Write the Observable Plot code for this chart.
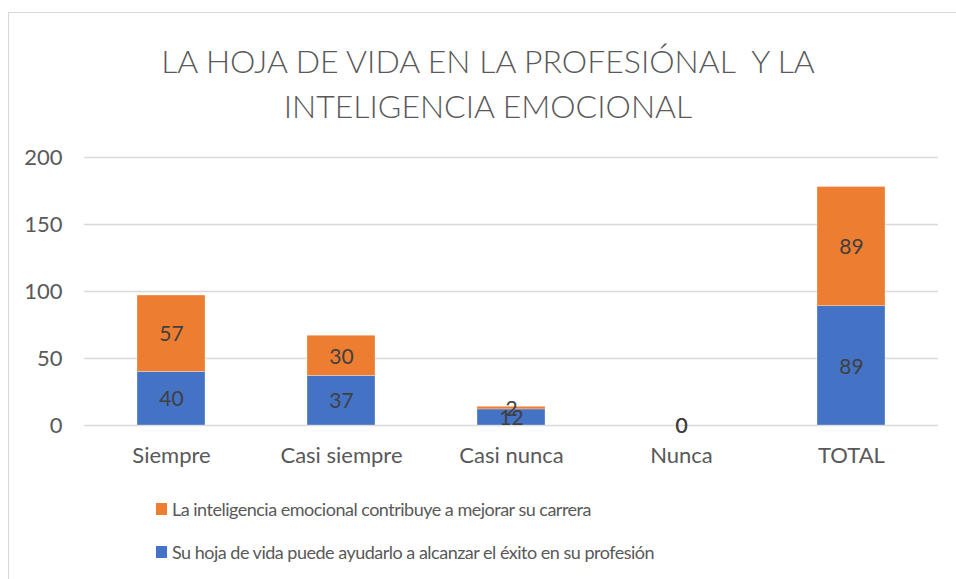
<!DOCTYPE html>
<html>
<head>
<meta charset="utf-8">
<script src="https://cdn.jsdelivr.net/npm/d3@7"></script>
<script src="https://cdn.jsdelivr.net/npm/@observablehq/plot@0.6"></script>
<style>
  html, body { margin: 0; padding: 0; background: #fff; }
  body { width: 956px; height: 579px; position: relative; overflow: hidden; font-family: Lato, "Open Sans", sans-serif; }
  #frame { position: absolute; left: 8px; top: 12px; width: 960px; height: 600px; border: 1.5px solid #d9d9d9; box-sizing: border-box; }
  #title { position: absolute; left: 0; width: 976px; top: 38px; text-align: center; color: #595959; font-size: 32px; font-weight: 300; line-height: 45px; }
  #chart { position: absolute; left: 0; top: 140px; }
  #legend { position: absolute; left: 156px; top: 487px; color: #595959; font-size: 18px; letter-spacing: -0.5px; }
  .item { display: flex; align-items: center; height: 43px; }
  .sw { width: 11px; height: 12px; margin-right: 5px; }
</style>
</head>
<body>
<div id="frame"></div>
<div id="title">LA HOJA DE VIDA EN LA PROFESIÓNAL&nbsp; Y LA<br>INTELIGENCIA EMOCIONAL</div>
<div id="chart"></div>
<div id="legend"></div>
<script>
const categories = ["Siempre", "Casi siempre", "Casi nunca", "Nunca", "TOTAL"];
const seriesNames = [
  "Su hoja de vida puede ayudarlo a alcanzar el éxito en su profesión",
  "La inteligencia emocional contribuye a mejorar su carrera"
];
const seriesBlue = [40, 37, 12, 0, 89];
const seriesOrange = [57, 30, 2, 0, 89];
const seriesColors = ["#4472C4", "#ED7D31"];
const yTicks = [0, 50, 100, 150, 200];

const data = [];
categories.forEach((c, i) => {
  data.push({cat: c, series: seriesNames[0], value: seriesBlue[i]});
  data.push({cat: c, series: seriesNames[1], value: seriesOrange[i]});
});

const chart = Plot.plot({
  width: 956,
  height: 330,
  marginLeft: 84,
  marginRight: 18,
  marginTop: 17,
  marginBottom: 45,
  style: {fontFamily: "Lato, 'Open Sans', sans-serif", fontSize: "22px", color: "#595959", background: "transparent"},
  x: {domain: categories, paddingInner: 0.6, paddingOuter: 0.3, label: null, tickSize: 0, tickPadding: 22},
  y: {domain: [0, 200], ticks: yTicks, label: null, tickSize: 0, tickPadding: 22},
  color: {domain: seriesNames, range: seriesColors},
  marks: [
    Plot.gridY(yTicks, {stroke: "#d9d9d9", strokeOpacity: 1, strokeWidth: 1.5}),
    Plot.barY(data, Plot.stackY({x: "cat", y: "value", fill: "series", order: seriesNames, stroke: "#ffffff", strokeWidth: 0.5, strokeOpacity: 0.6})),
    Plot.text(data, Plot.stackY({x: "cat", y: "value", z: "series", order: seriesNames, text: d => String(d.value), fill: "#404040", fontSize: 21, dy: 1}))
  ]
});
document.getElementById("chart").appendChild(chart);

const legend = document.getElementById("legend");
[1, 0].forEach(i => {
  const row = document.createElement("div");
  row.className = "item";
  const sw = document.createElement("div");
  sw.className = "sw";
  sw.style.background = seriesColors[i];
  const t = document.createElement("span");
  t.textContent = seriesNames[i];
  row.appendChild(sw);
  row.appendChild(t);
  legend.appendChild(row);
});
</script>
</body>
</html>
